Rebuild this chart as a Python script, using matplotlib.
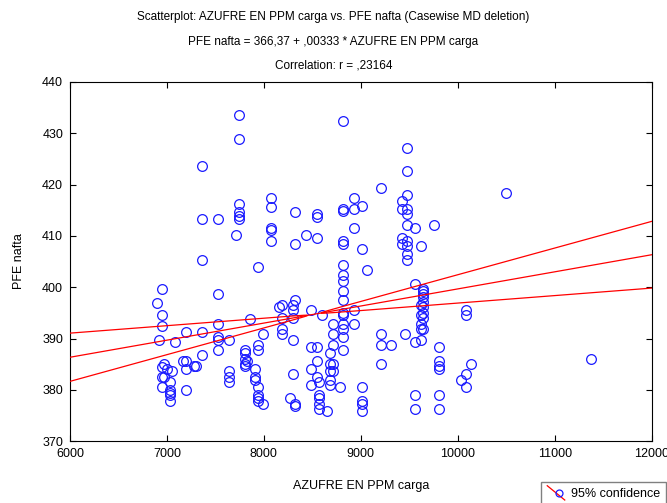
import numpy as np
import matplotlib
matplotlib.use('Agg')
import matplotlib.pyplot as plt
from matplotlib.lines import Line2D
from matplotlib.legend_handler import HandlerBase

plt.rcParams['font.family'] = ['Liberation Sans', 'DejaVu Sans']

# ---------- data -------------------------------------------------------------
azufre = [
    7744, 7744, 7359, 7744, 7744, 7744, 7744, 7359, 7524, 8078, 8078, 8322,
    8543, 8543, 7717, 8078, 8078, 8078, 8432, 8543, 8322, 7359, 7937,
    6946, 6892, 7524, 6946, 6946, 6918, 7080, 7194, 7359, 7524, 7524, 7524,
    7635, 7524, 7855, 7992, 7937, 7937, 7800, 7800, 7800, 7800, 7827, 7800,
    7909, 7909, 7909, 7937, 7937, 7937, 7937, 7992, 7635, 7635, 7635, 7359,
    7194, 7166, 7194, 7277, 7304, 7194, 6974, 6946, 7001, 7057, 6946, 6974,
    7029, 6946, 7029, 7029, 7029, 7029,
    8157, 8185, 8295, 8322, 8295, 8185, 8295, 8185, 8185, 8295, 8295, 8267,
    8322, 8322,
    8487, 8598, 8708, 8708, 8708, 8680, 8487, 8543, 8543, 8487, 8708, 8680,
    8708, 8680, 8543, 8570, 8487, 8680, 8680, 8790, 8570, 8570, 8570, 8570,
    8652,
    8817, 8817, 8817, 8817, 8817, 8817, 8817, 8817, 8817, 8817, 8817, 8817,
    8817, 8817, 8817, 8817,
    8928, 8928, 8928, 8928, 8928,
    9010, 9010, 9010, 9010, 9010, 9010, 9065,
    9203, 9203, 9203, 9203, 9313,
    9423, 9423, 9423, 9423, 9451,
    9478, 9478, 9478, 9478, 9478, 9478, 9478, 9478, 9478, 9478,
    9560, 9560, 9560, 9560, 9560,
    9616, 9616, 9616, 9616, 9616, 9616,
    9643, 9643, 9643, 9643, 9643, 9643, 9643, 9643, 9643,
    9753, 9808, 9808, 9808, 9808, 9808, 9808,
    10029, 10084, 10084, 10084, 10084, 10138, 10496, 11377,
]
pfe = [
    433.5, 428.8, 423.6, 416.3, 414.7, 413.9, 413.2, 413.2, 413.2, 417.4, 415.7, 414.7,
    414.2, 413.7, 410.1, 411.6, 411.1, 409.0, 410.1, 409.6, 408.5, 405.4, 403.9,
    399.7, 397.0, 398.7, 394.5, 392.4, 389.8, 389.3, 391.3, 391.3, 392.9, 390.3, 389.8,
    389.8, 387.7, 393.9, 390.9, 388.7, 387.7, 387.7, 387.1, 386.1, 385.1, 385.7, 384.6,
    384.1, 382.5, 381.9, 380.5, 378.9, 378.4, 377.9, 377.3, 383.6, 382.5, 381.5, 386.7,
    385.7, 385.7, 384.1, 384.6, 384.6, 379.9, 385.1, 384.5, 384.1, 383.6, 382.5, 382.5,
    381.5, 380.5, 379.9, 379.4, 378.9, 377.9,
    396.1, 396.6, 396.6, 397.6, 395.5, 394.0, 394.0, 391.9, 390.9, 389.8, 383.1, 378.4,
    377.3, 376.8,
    395.5, 394.5, 392.9, 390.9, 388.8, 387.2, 388.3, 388.3, 385.7, 384.1, 385.1, 385.1,
    383.6, 383.6, 382.5, 381.5, 381.0, 382.0, 381.0, 380.5, 378.9, 378.4, 377.3, 376.3,
    375.8,
    432.4, 415.3, 414.8, 409.0, 408.5, 404.4, 402.3, 401.3, 399.2, 397.6, 395.0, 394.5,
    392.9, 391.9, 390.3, 387.7,
    417.4, 415.3, 411.6, 395.5, 392.9,
    415.8, 407.5, 380.5, 377.9, 377.3, 375.8, 403.3,
    419.4, 390.9, 388.8, 385.1, 388.8,
    416.8, 415.3, 409.6, 408.5, 390.9,
    427.2, 422.6, 417.9, 415.3, 414.2, 412.2, 409.0, 408.0, 406.4, 405.4,
    411.6, 400.7, 389.3, 378.9, 376.3,
    408.0, 396.6, 394.5, 392.9, 391.9, 389.8,
    399.7, 399.2, 398.7, 398.1, 397.1, 396.1, 395.0, 394.0, 391.9,
    412.2, 388.3, 385.7, 384.6, 384.1, 378.9, 376.3,
    382.0, 395.5, 394.5, 383.1, 380.5, 385.1, 418.4, 386.1,
]
intercept = 366.37
slope = 0.00333
# 95% band read at the axis ends (x = 6000 and x = 12000)
band_x = [6000, 12000]
band_upper = [391.0, 412.7]
band_lower = [381.6, 399.7]

x = np.array(azufre, dtype=float)
y = np.array(pfe, dtype=float)

# ---------- regression line + 95% band (hyperbola through read ends) -------
xs = np.linspace(6000, 12000, 200)
fit = intercept + slope * xs
xm = x.mean()
h = (np.array(band_upper) - np.array(band_lower)) / 2
d = np.array(band_x) - xm
b = (h[1] ** 2 - h[0] ** 2) / (d[1] ** 2 - d[0] ** 2)
a = h[0] ** 2 - b * d[0] ** 2
half = np.sqrt(a + b * (xs - xm) ** 2)

fig = plt.figure(figsize=(6.67, 5.03), dpi=100)
ax = fig.add_axes([0.105, 0.123, 0.872, 0.714])

ax.plot(x, y, 'o', ms=7, mfc='none', mec='#1a1aff', mew=0.9, zorder=2)
ax.plot(xs, fit, color='red', lw=0.9, zorder=3)
ax.plot(xs, fit + half, color='red', lw=0.9, zorder=3)
ax.plot(xs, fit - half, color='red', lw=0.9, zorder=3)

ax.set_xlim(6000, 12000)
ax.set_ylim(370, 440)
ax.set_xticks(np.arange(6000, 12001, 1000))
ax.set_yticks(np.arange(370, 441, 10))
ax.tick_params(direction='in', length=4, width=0.8, labelsize=9,
               top=True, right=True, pad=5)
for sp in ax.spines.values():
    sp.set_linewidth(0.8)

ax.set_xlabel('AZUFRE EN PPM carga', fontsize=9, labelpad=14)
ax.set_ylabel('PFE nafta', fontsize=9, labelpad=12)

fig.text(0.5, 1 - 17 / 503, 'Scatterplot: AZUFRE EN PPM carga vs. PFE nafta (Casewise MD deletion)',
         ha='center', va='center', fontsize=8.5)
fig.text(0.5, 1 - 42 / 503, 'PFE nafta = 366,37 + ,00333 * AZUFRE EN PPM carga',
         ha='center', va='center', fontsize=8.5)
fig.text(0.5, 1 - 66 / 503, 'Correlation: r = ,23164',
         ha='center', va='center', fontsize=8.5)


# ---------- legend with diagonal line through circle -----------------------
class DiagHandler(HandlerBase):
    def create_artists(self, legend, orig_handle, xdescent, ydescent,
                       width, height, fontsize, trans):
        ln = Line2D([0, width], [height + 2, -2], color='red', lw=0.9, transform=trans)
        mk = Line2D([width * 0.65], [height / 2], marker='o', ms=5, mfc='none',
                    mec='#1a1aff', mew=0.9, ls='none', transform=trans)
        return [ln, mk]


handle = Line2D([], [])
fig.legend([handle], ['95% confidence'], handler_map={Line2D: DiagHandler()},
           loc='upper left', bbox_to_anchor=(541 / 667, 1 - 482 / 503),
           fontsize=9, fancybox=False, edgecolor='#808080', framealpha=1,
           handlelength=1.4, handletextpad=0.5, borderpad=0.5, borderaxespad=0)

fig.savefig('out.png', dpi=100)
